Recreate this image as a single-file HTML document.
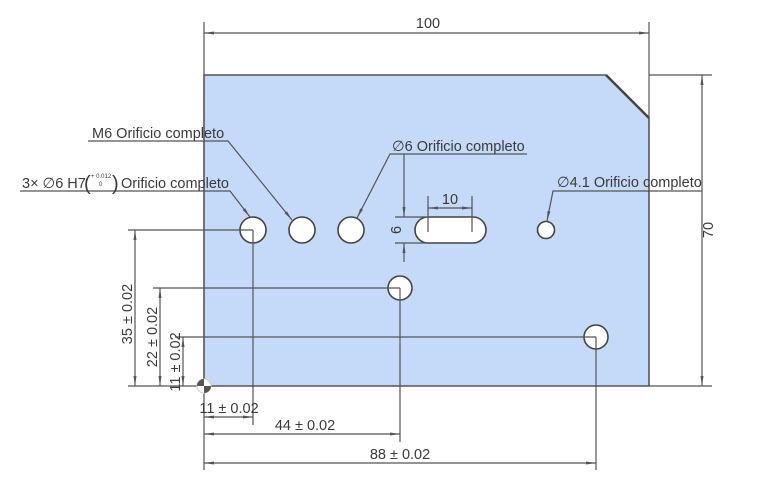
<!DOCTYPE html>
<html><head><meta charset="utf-8"><style>
html,body{margin:0;padding:0;background:#fff;}
svg{display:block;}
text{font-family:"Liberation Sans","DejaVu Sans",sans-serif;fill:#3a3a3a;}
</style></head><body>
<svg width="780" height="490" viewBox="0 0 780 490" xmlns="http://www.w3.org/2000/svg">
<defs>
<marker id="a" viewBox="0 0 10 4" refX="10" refY="2" markerWidth="10" markerHeight="4" orient="auto-start-reverse" markerUnits="userSpaceOnUse"><path d="M0,0.5 L10,2 L0,3.5z" fill="#555"/></marker>
</defs>
<path d="M204,75 L606,75 L649,118 L649,386 L204,386 Z" fill="#c5d9f9" stroke="#555" stroke-width="1.6"/>
<line x1="606" y1="75" x2="649" y2="118" stroke="#444" stroke-width="2.5"/>
<g fill="#fff" stroke="#444" stroke-width="1.6">
<circle cx="253" cy="230" r="13"/>
<circle cx="302" cy="230" r="13"/>
<circle cx="351" cy="230" r="13"/>
<circle cx="400" cy="288" r="12"/>
<circle cx="596" cy="337" r="12"/>
<circle cx="546" cy="230" r="8.5"/>
<rect x="415" y="217" width="71" height="26" rx="13" ry="13"/>
</g>
<g stroke="#555" stroke-width="1.2" fill="none">
<line x1="204" y1="22" x2="204" y2="75"/>
<line x1="649" y1="22" x2="649" y2="118"/>
<line x1="204" y1="33" x2="649" y2="33" marker-start="url(#a)" marker-end="url(#a)"/>
<line x1="649" y1="75" x2="712" y2="75"/>
<line x1="649" y1="386" x2="712" y2="386"/>
<line x1="702" y1="75" x2="702" y2="386" marker-start="url(#a)" marker-end="url(#a)"/>
<line x1="128" y1="386" x2="204" y2="386"/>
<line x1="128" y1="230" x2="253" y2="230"/>
<line x1="153" y1="288" x2="400" y2="288"/>
<line x1="175" y1="337" x2="596" y2="337"/>
<line x1="135" y1="230" x2="135" y2="386" marker-start="url(#a)" marker-end="url(#a)"/>
<line x1="160" y1="288" x2="160" y2="386" marker-start="url(#a)" marker-end="url(#a)"/>
<line x1="183" y1="337" x2="183" y2="386" marker-start="url(#a)" marker-end="url(#a)"/>
<line x1="204" y1="386" x2="204" y2="470"/>
<line x1="253" y1="230" x2="253" y2="425"/>
<line x1="400" y1="288" x2="400" y2="442"/>
<line x1="596" y1="337" x2="596" y2="470"/>
<line x1="204" y1="417" x2="253" y2="417" marker-start="url(#a)" marker-end="url(#a)"/>
<line x1="204" y1="434" x2="400" y2="434" marker-start="url(#a)" marker-end="url(#a)"/>
<line x1="204" y1="463" x2="596" y2="463" marker-start="url(#a)" marker-end="url(#a)"/>
<line x1="428" y1="196" x2="428" y2="232"/>
<line x1="472" y1="196" x2="472" y2="232"/>
<line x1="428" y1="208" x2="472" y2="208" marker-start="url(#a)" marker-end="url(#a)"/>
<line x1="395" y1="217" x2="428" y2="217"/>
<line x1="395" y1="243" x2="428" y2="243"/>
<line x1="404" y1="154" x2="404" y2="217" marker-end="url(#a)"/>
<line x1="404" y1="243" x2="404" y2="262" marker-start="url(#a)"/>
<polyline points="20,191 230,191 250,217" marker-end="url(#a)"/>
<polyline points="88,141 228,141 292,220" marker-end="url(#a)"/>
<polyline points="527,154 390,154 357,218" marker-end="url(#a)"/>
<polyline points="702,191 553,191 547,221" marker-end="url(#a)"/>
</g>
<circle cx="204" cy="386" r="7" fill="#fff" stroke="#ccc" stroke-width="1"/>
<path d="M204,386 L204,379 A7,7 0 0 0 197,386 Z" fill="#555"/>
<path d="M204,386 L211,386 A7,7 0 0 1 204,393 Z" fill="#555"/>
<g font-size="14.5">
<text x="428" y="28" text-anchor="middle">100</text>
<text x="92" y="138">M6 Orificio completo</text>
<text x="392" y="151">∅6 Orificio completo</text>
<text x="557" y="187">∅4.1 Orificio completo</text>
<text x="22" y="188">3× ∅6 H7</text>
<text x="121" y="188">Orificio completo</text>
<text x="450" y="204" text-anchor="middle">10</text>
<text x="229" y="413" text-anchor="middle">11 ± 0.02</text>
<text x="305" y="430" text-anchor="middle">44 ± 0.02</text>
<text x="400" y="459" text-anchor="middle">88 ± 0.02</text>
<text transform="translate(132,314) rotate(-90)" text-anchor="middle">35 ± 0.02</text>
<text transform="translate(157,337) rotate(-90)" text-anchor="middle">22 ± 0.02</text>
<text transform="translate(180,362) rotate(-90)" text-anchor="middle">11 ± 0.02</text>
<text transform="translate(401,230) rotate(-90)" text-anchor="middle">6</text>
<text transform="translate(713,230) rotate(-90)" text-anchor="middle">70</text>
</g>
<text x="84" y="190" font-size="20">(</text>
<text x="112" y="190" font-size="20">)</text>
<text x="91" y="178" font-size="6">+ 0.012</text>
<text x="99" y="186" font-size="6">0</text>
</svg>
</body></html>
